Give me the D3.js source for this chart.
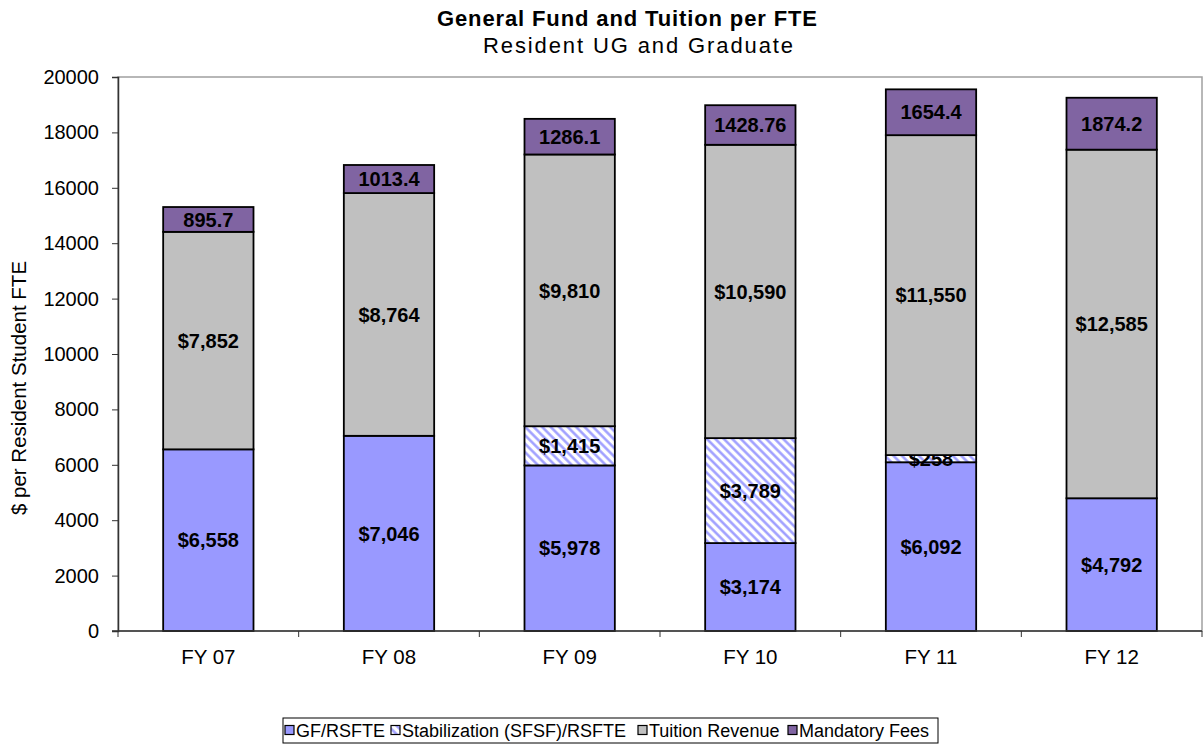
<!DOCTYPE html>
<html>
<head>
<meta charset="utf-8">
<script src="https://cdn.jsdelivr.net/npm/d3@7"></script>
<style>
  body { margin: 0; background: #fff; }
  svg text { font-family: "Liberation Sans", Arial, sans-serif; }
</style>
</head>
<body>
<svg id="chart" width="1203" height="744"></svg>
<script>
// Fiscal years and per-FTE amounts
const years = ["FY 07", "FY 08", "FY 09", "FY 10", "FY 11", "FY 12"];
const gfValues = [6558, 7046, 5978, 3174, 6092, 4792];
const sfsfValues = [0, 0, 1415, 3789, 258, 0];
const tuitionValues = [7852, 8764, 9810, 10590, 11550, 12585];
const feeValues = [895.7, 1013.4, 1286.1, 1428.76, 1654.4, 1874.2];
const seriesNames = ["GF/RSFTE", "Stabilization (SFSF)/RSFTE", "Tuition Revenue", "Mandatory Fees"];
const yTicks = [0, 2000, 4000, 6000, 8000, 10000, 12000, 14000, 16000, 18000, 20000];

const seriesKeys = ["gf", "sfsf", "tuition", "fees"];
const fills = ["#9999ff", "url(#hatch)", "#c0c0c0", "#8064a2"];

const table = years.map((y, i) => ({
    year: y,
    gf: gfValues[i],
    sfsf: sfsfValues[i],
    tuition: tuitionValues[i],
    fees: feeValues[i]
}));

const svg = d3.select("#chart");
const margin = { left: 118, right: 1, top: 77, bottom: 113 };
const width = 1203 - margin.left - margin.right;
const height = 744 - margin.top - margin.bottom;

// hatch for the stabilization series
const defs = svg.append("defs");
const pat = defs.append("pattern")
    .attr("id", "hatch")
    .attr("patternUnits", "userSpaceOnUse")
    .attr("width", 6)
    .attr("height", 6)
    .attr("patternTransform", "rotate(45)");
pat.append("rect").attr("width", 6).attr("height", 6).attr("fill", "#fff");
pat.append("line")
    .attr("x1", 0).attr("y1", 1.5).attr("x2", 6).attr("y2", 1.5)
    .attr("stroke", "#9999ff").attr("stroke-width", 2.4);

const g = svg.append("g").attr("transform", `translate(${margin.left},${margin.top})`);

const x = d3.scaleBand().domain(years).range([0, width]).paddingInner(0.5).paddingOuter(0.25);
const y = d3.scaleLinear().domain([0, 20000]).range([height, 0]);

// plot area border
g.append("rect")
    .attr("width", width)
    .attr("height", height)
    .attr("fill", "none")
    .attr("stroke", "#a0a0a0")
    .attr("stroke-width", 1.5);

const stacked = d3.stack().keys(seriesKeys)(table);

const layers = g.selectAll(".layer")
    .data(stacked)
    .enter()
    .append("g")
    .attr("class", "layer")
    .attr("fill", (d, i) => fills[i]);

layers.selectAll("rect")
    .data(d => d)
    .enter()
    .append("rect")
    .attr("x", d => x(d.data.year))
    .attr("y", d => y(d[1]))
    .attr("width", x.bandwidth())
    .attr("height", d => y(d[0]) - y(d[1]))
    .attr("stroke", d => (d[1] - d[0]) > 0 ? "#000" : "none")
    .attr("stroke-width", 1.8);

// value labels
const fmtDollar = v => "$" + d3.format(",")(v);
layers.each(function (layer, li) {
    d3.select(this).selectAll("text")
        .data(layer.filter(d => d[1] - d[0] > 0))
        .enter()
        .append("text")
        .attr("x", d => x(d.data.year) + x.bandwidth() / 2)
        .attr("y", d => (y(d[0]) + y(d[1])) / 2)
        .attr("dy", "0.36em")
        .attr("text-anchor", "middle")
        .attr("font-size", "20px")
        .attr("font-weight", "bold")
        .attr("fill", "#000")
        .text(d => li === 3 ? String(d.data.fees) : fmtDollar(d[1] - d[0]));
});

// y axis
const yAxis = g.append("g")
    .call(d3.axisLeft(y).tickValues(yTicks).tickSize(6).tickPadding(13).tickFormat(d3.format("d")));
yAxis.selectAll("text").attr("font-size", "20px").attr("fill", "#000");
yAxis.selectAll("line").attr("stroke", "#333");
yAxis.select(".domain").attr("stroke", "#333").attr("stroke-width", 1.5);

// x axis: ticks sit between categories
const xAxis = g.append("g").attr("transform", `translate(0,${height})`);
xAxis.append("line")
    .attr("x1", -6).attr("x2", width)
    .attr("stroke", "#333").attr("stroke-width", 1.5);
const step = x.step();
xAxis.selectAll(".tk")
    .data(d3.range(years.length + 1))
    .enter()
    .append("line")
    .attr("x1", i => i * step).attr("x2", i => i * step)
    .attr("y1", 0).attr("y2", 6)
    .attr("stroke", "#333");
xAxis.selectAll(".lbl")
    .data(years)
    .enter()
    .append("text")
    .attr("x", d => x(d) + x.bandwidth() / 2)
    .attr("y", 33)
    .attr("text-anchor", "middle")
    .attr("font-size", "20.5px")
    .attr("fill", "#000")
    .text(d => d);

// titles
svg.append("text")
    .attr("x", 627).attr("y", 26)
    .attr("text-anchor", "middle")
    .attr("font-size", "22px")
    .attr("font-weight", "bold")
    .attr("textLength", 380)
    .attr("lengthAdjust", "spacing")
    .text("General Fund and Tuition per FTE");
svg.append("text")
    .attr("x", 638).attr("y", 53)
    .attr("text-anchor", "middle")
    .attr("font-size", "22px")
    .attr("textLength", 310)
    .attr("lengthAdjust", "spacing")
    .text("Resident UG and Graduate");

svg.append("text")
    .attr("transform", "translate(26,388) rotate(-90)")
    .attr("text-anchor", "middle")
    .attr("font-size", "20.5px")
    .text("$ per Resident Student FTE");

// legend
const legend = svg.append("g").attr("transform", "translate(283,718)");
legend.append("rect")
    .attr("width", 655).attr("height", 25)
    .attr("fill", "#fff").attr("stroke", "#000").attr("stroke-width", 1);
const legendX = [2, 108, 355, 505];
const items = legend.selectAll(".item")
    .data(seriesNames)
    .enter()
    .append("g")
    .attr("transform", (d, i) => `translate(${legendX[i]},0)`);
items.append("rect")
    .attr("x", 0).attr("y", 7.5)
    .attr("width", 9).attr("height", 9)
    .attr("fill", (d, i) => fills[i])
    .attr("stroke", "#000").attr("stroke-width", 1.2);
items.append("text")
    .attr("x", 11).attr("y", 19)
    .attr("font-size", "18px")
    .text(d => d);
</script>
</body>
</html>
